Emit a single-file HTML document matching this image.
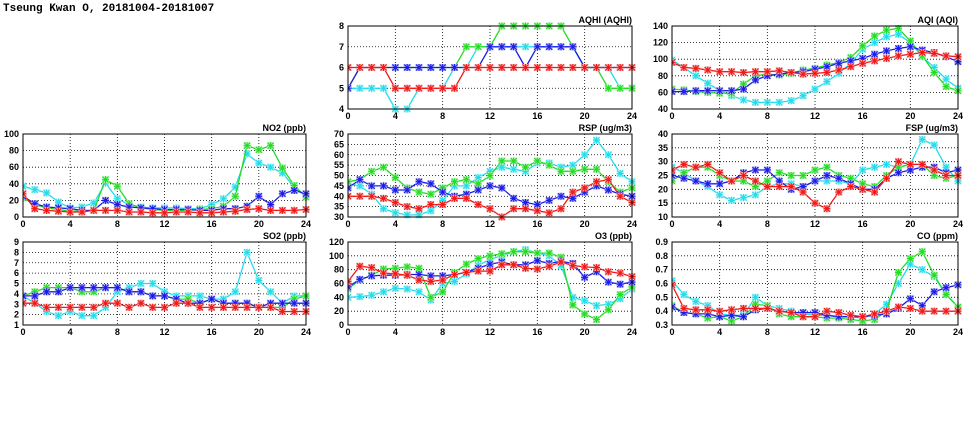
<!DOCTYPE html>
<html><head><meta charset="utf-8">
<style>
html,body{margin:0;padding:0;background:#fff;}
svg{display:block;font-family:"Liberation Sans",sans-serif;}
.tk{font-size:9px;font-weight:bold;fill:#000;}
.ttl{font-size:9px;font-weight:bold;fill:#000;}
</style></head>
<body>
<svg id="chart" width="975" height="447" viewBox="0 0 975 447" xmlns="http://www.w3.org/2000/svg">
<rect width="975" height="447" fill="#fff"/>
<text x="3" y="11" style="font-family:'Liberation Mono',monospace;font-size:11px;font-weight:bold">Tseung Kwan O, 20181004-20181007</text>
</svg>
<script>
const hours = [0,1,2,3,4,5,6,7,8,9,10,11,12,13,14,15,16,17,18,19,20,21,22,23,24];
const xTicks = [0,4,8,12,16,20,24];

const aqhiRed   = [6,6,6,6,5,5,5,5,5,5,6,6,6,6,6,6,6,6,6,6,6,6,6,6,6];
const aqhiGreen = [5,6,6,6,6,6,6,6,6,6,7,7,7,8,8,8,8,8,8,7,6,6,5,5,5];
const aqhiBlue  = [5,6,6,6,6,6,6,6,6,6,6,6,7,7,7,6,7,7,7,7,6,6,6,6,6];
const aqhiCyan  = [5,5,5,5,4,4,5,5,5,6,6,7,7,7,7,7,7,7,7,7,6,6,6,5,5];
const aqhiTicks = [4,5,6,7,8];

const aqiRed   = [96,90,89,87,85,85,84,85,85,86,84,82,83,84,87,91,95,98,101,104,106,108,107,104,103];
const aqiGreen = [64,63,61,60,59,59,70,80,82,81,83,87,89,93,96,102,116,128,135,137,122,104,84,67,62];
const aqiBlue  = [61,61,62,62,62,62,64,75,80,82,84,85,88,91,95,98,101,106,110,113,115,111,108,103,97];
const aqiCyan  = [99,90,80,71,62,56,51,48,48,48,50,56,64,73,83,95,112,120,127,130,120,103,90,76,65];
const aqiTicks = [40,60,80,100,120,140];

const no2Red   = [28,10,8,7,6,6,8,8,8,6,6,5,5,6,6,5,5,6,7,9,10,8,8,8,9];
const no2Green = [23,15,11,9,7,7,8,45,37,16,11,9,8,8,8,9,10,13,25,86,81,86,59,38,24];
const no2Blue  = [25,16,12,11,10,8,8,20,15,12,11,10,9,9,9,8,8,10,10,13,25,15,28,32,28];
const no2Cyan  = [37,33,29,18,11,12,17,41,22,15,12,11,11,11,10,10,15,22,36,76,65,60,53,36,25];
const no2Ticks = [0,20,40,60,80,100];

const rspRed   = [40,40,40,39,37,35,34,36,36,39,39,36,34,30,34,34,33,32,34,42,44,47,48,40,37];
const rspGreen = [47,48,52,54,49,44,42,41,44,47,48,46,50,57,57,54,57,55,52,52,53,53,47,42,44];
const rspBlue  = [44,48,45,45,43,43,47,46,42,40,41,43,45,44,39,37,36,38,40,39,42,45,43,41,40];
const rspCyan  = [46,45,41,34,32,31,31,33,38,45,45,49,52,54,53,52,56,56,54,55,60,67,60,51,47];
const rspTicks = [30,35,40,45,50,55,60,65,70];

const fspRed   = [27,29,28,29,26,23,25,23,21,21,21,19,15,13,19,21,20,19,24,30,29,29,27,25,25];
const fspGreen = [23,26,28,28,25,23,23,21,23,26,25,25,27,28,25,24,22,21,25,28,29,29,25,24,25];
const fspBlue  = [25,24,23,22,22,23,26,27,27,23,20,21,23,25,24,22,20,20,24,26,27,28,28,26,27];
const fspCyan  = [28,26,23,21,18,16,17,18,21,22,22,21,23,23,23,22,27,28,29,28,29,38,36,28,23];
const fspTicks = [10,15,20,25,30,35,40];

const so2Red   = [3.1,3.1,2.7,2.7,2.7,2.7,2.7,3.1,3.1,2.7,3.1,2.7,2.7,3.1,3.1,2.7,2.7,2.7,2.7,2.7,2.7,2.7,2.3,2.3,2.3];
const so2Green = [3.8,4.2,4.6,4.6,4.6,4.2,4.2,4.6,4.6,4.2,4.2,3.8,3.8,3.5,3.5,3.1,3.5,3.1,3.1,3.1,2.7,2.7,2.7,3.5,3.8];
const so2Blue  = [3.8,3.8,4.2,4.2,4.6,4.6,4.6,4.6,4.6,4.2,4.2,3.8,3.8,3.5,3.1,3.1,3.5,3.1,3.1,3.1,2.7,3.1,3.1,3.1,3.1];
const so2Cyan  = [3.8,3.1,2.3,1.9,2.3,1.9,1.9,2.7,4.2,4.6,5.0,5.0,4.2,3.8,3.8,3.8,3.5,3.5,4.2,8.0,5.3,4.2,3.1,3.8,3.8];
const so2Ticks = [1,2,3,4,5,6,7,8,9];

const o3Red   = [63,85,83,75,74,72,65,63,65,73,76,78,78,87,87,82,81,85,91,86,84,83,77,75,70];
const o3Green = [52,65,72,81,82,84,82,40,48,76,88,96,100,103,106,106,104,104,98,29,16,8,22,44,55];
const o3Blue  = [55,66,71,72,72,73,73,71,71,73,76,82,88,91,87,87,93,89,92,89,69,77,62,59,62];
const o3Cyan  = [40,41,43,48,53,52,48,36,60,63,74,86,95,100,106,109,104,100,86,40,35,28,30,38,52];
const o3Ticks = [0,20,40,60,80,100,120];

const coRed   = [0.59,0.42,0.41,0.41,0.40,0.41,0.42,0.42,0.42,0.40,0.39,0.36,0.36,0.40,0.39,0.37,0.36,0.38,0.40,0.43,0.42,0.40,0.40,0.40,0.40];
const coGreen = [0.44,0.39,0.38,0.35,0.36,0.33,0.36,0.45,0.44,0.38,0.36,0.36,0.36,0.35,0.35,0.34,0.33,0.34,0.40,0.68,0.78,0.83,0.66,0.52,0.43];
const coBlue  = [0.43,0.39,0.38,0.38,0.36,0.37,0.36,0.41,0.42,0.40,0.39,0.39,0.39,0.37,0.36,0.36,0.36,0.37,0.38,0.42,0.49,0.44,0.54,0.57,0.59];
const coCyan  = [0.62,0.52,0.47,0.44,0.38,0.37,0.37,0.50,0.44,0.42,0.40,0.38,0.37,0.37,0.36,0.36,0.35,0.38,0.45,0.60,0.74,0.70,0.65,0.52,0.43];
const coTicks = [0.3,0.4,0.5,0.6,0.7,0.8,0.9];

const svg = document.getElementById('chart');
const NS = 'http://www.w3.org/2000/svg';
function mk(tag, attrs, parent){
  const e = document.createElementNS(NS, tag);
  for (const k in attrs) e.setAttribute(k, attrs[k]);
  parent.appendChild(e);
  return e;
}
const COLS = {cyan:['#22dcec','#b8f4f8'], green:['#22dd22','#b8f0b8'], blue:['#1c1ce8','#b0b0f4'], red:['#f01818','#f4b0b0']};

function panel(key, title, L, T, W, H, ticks, series, decimals){
  const g = mk('g', {}, svg);
  
  
  const ymin = ticks[0], ymax = ticks[ticks.length-1];
  const xs = v => L + v / 24 * W;
  const ys = v => T + H - (v - ymin) / (ymax - ymin) * H;
  // grid
  ticks.forEach(t => {
    if (t === ymin || t === ymax) return;
    const l = mk('line', {x1:L, x2:L+W, y1:ys(t), y2:ys(t), stroke:'#000', 'stroke-width':0.8, 'stroke-dasharray':'1,2'}, g);
    
    
  });
  xTicks.forEach(t => {
    if (t === 0 || t === 24) return;
    const l = mk('line', {x1:xs(t), x2:xs(t), y1:T, y2:T+H, stroke:'#000', 'stroke-width':0.8, 'stroke-dasharray':'1,2'}, g);
    
    
  });
  // tick labels
  ticks.forEach(t => {
    const tx = mk('text', {x:L-4, y:ys(t)+3, 'text-anchor':'end', class:'tk'}, g);
    tx.textContent = decimals ? t.toFixed(decimals) : String(t);
    
    
  });
  xTicks.forEach(t => {
    const tx = mk('text', {x:xs(t), y:T+H+10, 'text-anchor':'middle', class:'tk'}, g);
    tx.textContent = String(t);
    
    
  });
  const tt = mk('text', {x:L+W, y:T-3, 'text-anchor':'end', class:'ttl'}, g);
  tt.textContent = title;
  
  
  // clip
  const cid = 'clip-' + key;
  const cp = mk('clipPath', {id:cid}, g);
  mk('rect', {x:L, y:T-4, width:W+4, height:H+8}, cp);
  const sg = mk('g', {'clip-path':'url(#'+cid+')'}, g);
  series.forEach(([name, vals]) => {
    const [c, light] = COLS[name];
    const pts = vals.map((v,i) => xs(hours[i]).toFixed(1) + ',' + ys(v).toFixed(1)).join(' ');
    const pl = mk('polyline', {points:pts, fill:'none', stroke:c, 'stroke-width':1.3}, sg);
    
    
    vals.forEach((v,i) => {
      const x = xs(hours[i]), y = ys(v);
      const m = mk('g', {}, sg);
      
      
      mk('rect', {x:x-3.5, y:y-3.5, width:7, height:7, fill:light}, m);
      mk('path', {d:`M${x-3},${y-3}L${x+3},${y+3}M${x-3},${y+3}L${x+3},${y-3}M${x-3.5},${y}L${x+3.5},${y}M${x},${y-3.5}L${x},${y+3.5}`, stroke:c, 'stroke-width':1.1, fill:'none'}, m);
    });
  });
  const fr = mk('rect', {x:L, y:T, width:W, height:H, fill:'none', stroke:'#000', 'stroke-width':1}, g);
  
  
}

const colL = [23, 348, 672], colW = [283, 284, 286];
const rowT = [26, 134, 242], H = 83;
panel('aqhi', 'AQHI (AQHI)', colL[1], rowT[0], colW[1], H, aqhiTicks, [['cyan',aqhiCyan],['green',aqhiGreen],['blue',aqhiBlue],['red',aqhiRed]], 0);
panel('aqi', 'AQI (AQI)', colL[2], rowT[0], colW[2], H, aqiTicks, [['cyan',aqiCyan],['green',aqiGreen],['blue',aqiBlue],['red',aqiRed]], 0);
panel('no2', 'NO2 (ppb)', colL[0], rowT[1], colW[0], H, no2Ticks, [['cyan',no2Cyan],['green',no2Green],['blue',no2Blue],['red',no2Red]], 0);
panel('rsp', 'RSP (ug/m3)', colL[1], rowT[1], colW[1], H, rspTicks, [['cyan',rspCyan],['green',rspGreen],['blue',rspBlue],['red',rspRed]], 0);
panel('fsp', 'FSP (ug/m3)', colL[2], rowT[1], colW[2], H, fspTicks, [['cyan',fspCyan],['green',fspGreen],['blue',fspBlue],['red',fspRed]], 0);
panel('so2', 'SO2 (ppb)', colL[0], rowT[2], colW[0], H, so2Ticks, [['cyan',so2Cyan],['green',so2Green],['blue',so2Blue],['red',so2Red]], 0);
panel('o3', 'O3 (ppb)', colL[1], rowT[2], colW[1], H, o3Ticks, [['cyan',o3Cyan],['green',o3Green],['blue',o3Blue],['red',o3Red]], 0);
panel('co', 'CO (ppm)', colL[2], rowT[2], colW[2], H, coTicks, [['cyan',coCyan],['green',coGreen],['blue',coBlue],['red',coRed]], 1);
</script>
</body></html>
